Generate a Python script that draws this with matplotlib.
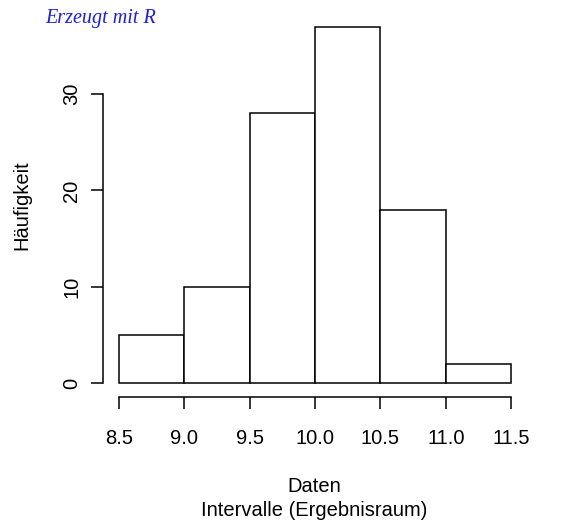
import matplotlib.pyplot as plt
import matplotlib as mpl

mpl.rcParams['font.family'] = 'Liberation Sans'
mpl.rcParams['font.size'] = 14.5

# histogram data
edges = [8.5, 9.0, 9.5, 10.0, 10.5, 11.0, 11.5]
counts = [5, 10, 28, 37, 18, 2]
xticks = [8.5, 9.0, 9.5, 10.0, 10.5, 11.0, 11.5]
yticks = [0, 10, 20, 30]

fig = plt.figure(figsize=(5.66, 5.21), dpi=100)
ax = fig.add_axes([0.182, 0.2374, 0.749, 0.7388])

widths = [edges[i+1] - edges[i] for i in range(len(counts))]
ax.bar(edges[:-1], counts, width=widths, align='edge',
       facecolor='white', edgecolor='black', linewidth=1.1)

# R style axes: 4% padding, axis lines only over tick range
ax.set_xlim(8.5 - 0.12, 11.5 + 0.12)
ax.set_ylim(-0.04 * 37, 37 * 1.04)
ax.spines['top'].set_visible(False)
ax.spines['right'].set_visible(False)
ax.spines['left'].set_bounds(0, 30)
ax.spines['bottom'].set_bounds(8.5, 11.5)
for s in ['left', 'bottom']:
    ax.spines[s].set_linewidth(1.1)
ax.set_xticks(xticks)
ax.set_xticklabels(['%.1f' % v for v in xticks])
ax.set_yticks(yticks)
ax.set_yticklabels([str(v) for v in yticks], rotation=90, va='center')
ax.tick_params(length=8.5, width=1.1, pad=14)
ax.tick_params(axis='y', pad=7)

fig.text(314 / 566, 1 - 486 / 521, 'Daten', ha='center', va='center')
fig.text(314 / 566, 1 - 510 / 521, 'Intervalle (Ergebnisraum)', ha='center', va='center')
fig.text(22 / 566, 1 - 205 / 521, 'Häufigkeit', ha='center', va='center', rotation=90)

fig.text(45 / 566, 1 - 18 / 521, 'Erzeugt mit R', ha='left', va='center',
         color='#1a1aff', family='Liberation Serif', style='italic', fontsize=14.5)

fig.savefig('out.png', dpi=100)
